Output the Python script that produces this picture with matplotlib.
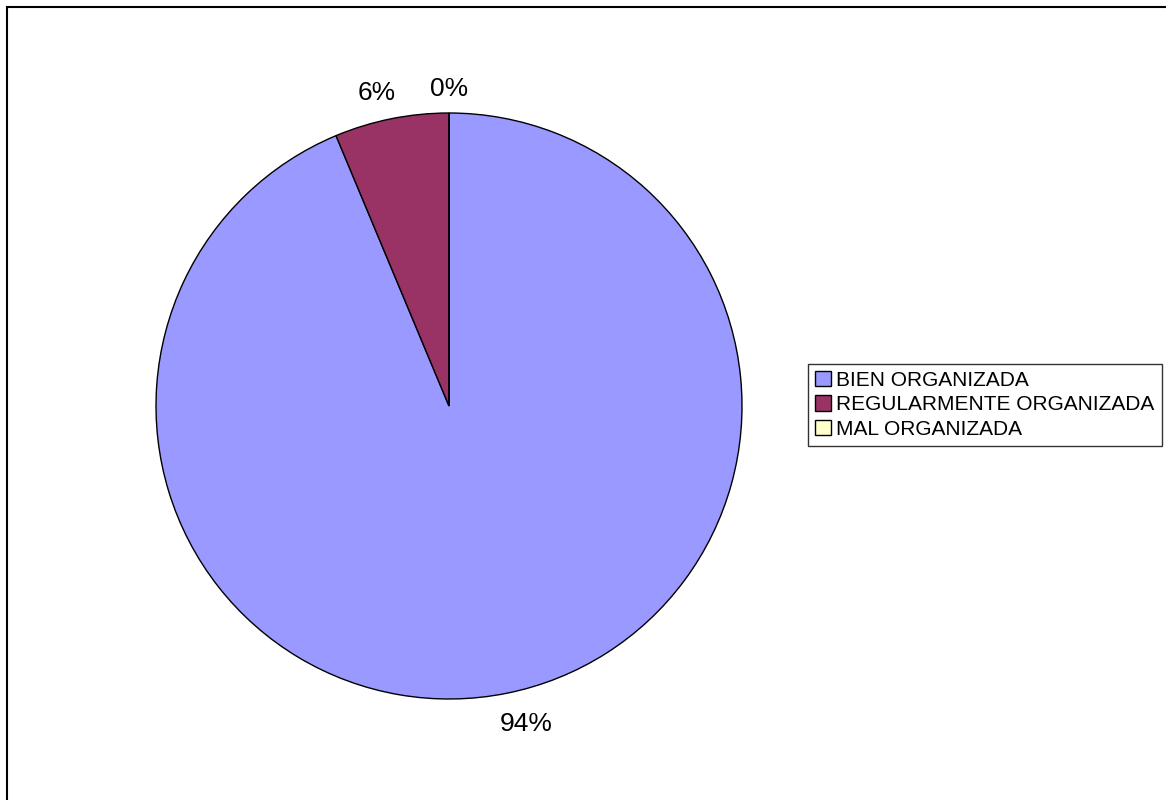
import matplotlib
matplotlib.use('Agg')
import matplotlib.pyplot as plt
from matplotlib.patches import Rectangle

# datos
categorias = ['BIEN ORGANIZADA', 'REGULARMENTE ORGANIZADA', 'MAL ORGANIZADA']
porcentajes = [93.7, 6.3, 0.0]
colores = ['#9999FF', '#993366', '#FFFFCC']

plt.rcParams['font.family'] = ['Liberation Sans', 'DejaVu Sans']

fig = plt.figure(figsize=(11.66, 8.0), dpi=100)
ax = fig.add_axes([0, 0, 1, 1])

etiquetas = [f'{round(p):.0f}%' for p in porcentajes]
wedges, textos = ax.pie(
    porcentajes, colors=colores, labels=etiquetas,
    startangle=90, counterclock=False,
    center=(449, 394), radius=293, labeldistance=1.1,
    wedgeprops={'edgecolor': 'black', 'linewidth': 1.0},
    textprops={'fontsize': 19},
)
# pequeno ajuste de las etiquetas, como en el original
ajustes = [(14, -2), (-9, -3), (0, -5)]
for t, (dx, dy) in zip(textos, ajustes):
    x, y = t.get_position()
    t.set_position((x + dx, y + dy))
    t.set_horizontalalignment('center')
    t.set_verticalalignment('center')

ax.set_xlim(0, 1166)
ax.set_ylim(0, 800)
ax.set_aspect('equal')
ax.axis('off')

# marco exterior del grafico
fig.patches.append(Rectangle((6.5 / 1166, -0.1), 1.2, 1.1 - 7 / 800,
                             transform=fig.transFigure, fill=False,
                             edgecolor='black', linewidth=1.5))

leg = fig.legend(wedges, categorias, loc='center left',
                 bbox_to_anchor=(808 / 1166, 0.494), fontsize=15,
                 frameon=True, fancybox=False, edgecolor='black',
                 handlelength=0.75, handleheight=0.75, handletextpad=0.25,
                 labelspacing=0.25, borderpad=0.35, borderaxespad=0)
leg.get_frame().set_linewidth(1.0)

plt.savefig('out.png', dpi=100)
plt.close()
